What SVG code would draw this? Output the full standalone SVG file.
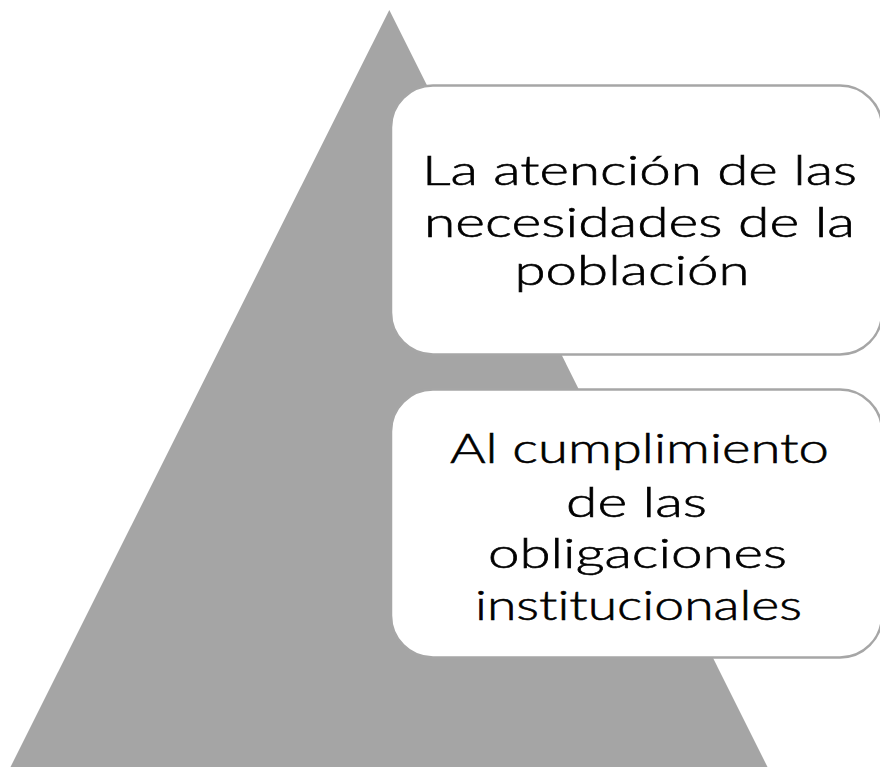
<svg xmlns="http://www.w3.org/2000/svg" width="880" height="767" viewBox="0 0 880 767">
<style>
.box{fill:#ffffff;stroke:#a6a6a6;stroke-width:2.5}
.lbl{font-family:"Lato","Roboto","Liberation Sans",sans-serif;font-weight:300;font-size:42px;fill:#000000;stroke:#000000;stroke-width:0.6;text-anchor:middle;font-variant-ligatures:none;font-feature-settings:"liga" 0}
</style>
<rect width="880" height="767" fill="#ffffff"/>
<g id="pyramid">
<polygon points="389.3,10 10.5,767 767.5,767" fill="#a5a5a5"/>
</g>
<g id="node-top">
<rect class="box" x="391" y="85.5" width="491" height="269" rx="42" ry="42"/>
<text class="lbl" x="639.5" y="185" textLength="435" lengthAdjust="spacingAndGlyphs">La atención de las</text>
<text class="lbl" x="639.5" y="236.5" textLength="431" lengthAdjust="spacingAndGlyphs">necesidades de la</text>
<text class="lbl" x="632" y="285" textLength="235" lengthAdjust="spacingAndGlyphs">población</text>
</g>
<g id="node-bottom">
<rect class="box" x="391" y="389.5" width="491" height="268" rx="42" ry="42"/>
<text class="lbl" x="639.5" y="463" textLength="379" lengthAdjust="spacingAndGlyphs">Al cumplimiento</text>
<text class="lbl" x="636.5" y="516.5" textLength="141" lengthAdjust="spacingAndGlyphs">de las</text>
<text class="lbl" x="637.5" y="568" textLength="299" lengthAdjust="spacingAndGlyphs">obligaciones</text>
<text class="lbl" x="638.5" y="620" textLength="327" lengthAdjust="spacingAndGlyphs">institucionales</text>
</g>
<g id="connectors"></g>
</svg>
